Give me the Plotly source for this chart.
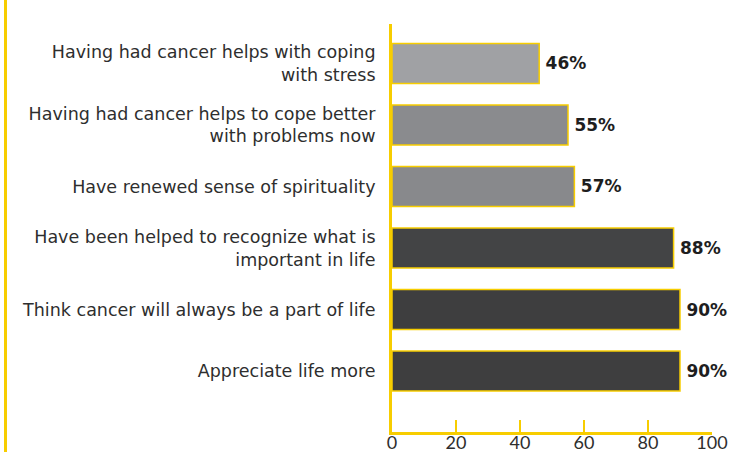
import plotly.graph_objects as go

# Survey statements, listed top to bottom
statements = [
    "Having had cancer helps with coping<br>with stress",
    "Having had cancer helps to cope better<br>with problems now",
    "Have renewed sense of spirituality",
    "Have been helped to recognize what is<br>important in life",
    "Think cancer will always be a part of life",
    "Appreciate life more",
]
percent_agree = [46, 55, 57, 88, 90, 90]
x_ticks = [0, 20, 40, 60, 80, 100]

bar_colors = ["#a0a1a4", "#8a8b8e", "#88898c", "#434445", "#3e3e3f", "#3e3e3f"]
yellow = "#f7cd00"
text_color = "#2e2e2e"
label_font = "'DejaVu Sans', sans-serif"
number_font = "Lato, sans-serif"

fig = go.Figure(
    go.Bar(
        x=percent_agree,
        y=statements,
        orientation="h",
        width=0.65,
        marker=dict(color=bar_colors, line=dict(color=yellow, width=1.5)),
        texttemplate="\u2009<b>%{x}%</b>",
        textposition="outside",
        textfont=dict(family=label_font, size=17, color="#1e1e1e"),
        cliponaxis=False,
        hoverinfo="skip",
    )
)

fig.update_layout(
    width=742,
    height=452,
    margin=dict(l=392, r=30, t=24, b=20, autoexpand=False),
    paper_bgcolor="white",
    plot_bgcolor="white",
    showlegend=False,
    font=dict(family=label_font, color=text_color),
    xaxis=dict(
        range=[0, 100],
        tickvals=x_ticks,
        ticks="inside",
        ticklen=12,
        tickwidth=2,
        tickcolor=yellow,
        showline=True,
        linecolor=yellow,
        linewidth=3,
        showgrid=False,
        zeroline=False,
        automargin=False,
        ticklabelstandoff=-8,
        tickfont=dict(family=number_font, size=18, color=text_color),
    ),
    yaxis=dict(
        type="category",
        categoryorder="array",
        categoryarray=statements,
        range=[5.99, -0.64],
        showline=True,
        linecolor=yellow,
        linewidth=3,
        showgrid=False,
        zeroline=False,
        automargin=False,
        ticks="",
        ticklabelstandoff=10,
        tickfont=dict(size=17.5, color=text_color),
    ),
    shapes=[
        dict(
            type="line",
            xref="paper",
            yref="paper",
            x0=(5.5 - 392) / 320,
            x1=(5.5 - 392) / 320,
            y0=-20 / 408,
            y1=432 / 408,
            line=dict(color=yellow, width=3),
        )
    ],
)

fig.write_html("out.html")
